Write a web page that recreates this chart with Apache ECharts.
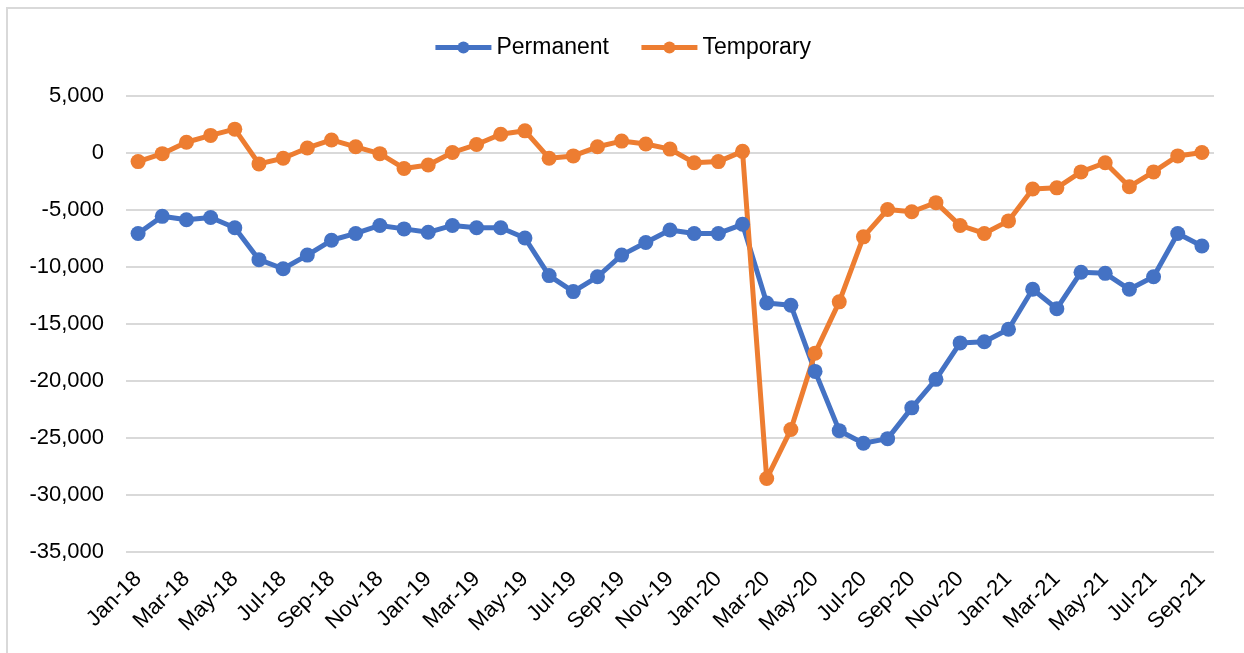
<!DOCTYPE html>
<html>
<head>
<meta charset="utf-8">
<script src="https://cdn.jsdelivr.net/npm/echarts@6/dist/echarts.min.js"></script>
<style>html,body{margin:0;padding:0;background:#fff;}#c{width:1244px;height:653px;}</style>
</head>
<body>
<div id="c"></div>
<script>
const categories = ["Jan-18","Feb-18","Mar-18","Apr-18","May-18","Jun-18","Jul-18","Aug-18","Sep-18","Oct-18","Nov-18","Dec-18",
"Jan-19","Feb-19","Mar-19","Apr-19","May-19","Jun-19","Jul-19","Aug-19","Sep-19","Oct-19","Nov-19","Dec-19",
"Jan-20","Feb-20","Mar-20","Apr-20","May-20","Jun-20","Jul-20","Aug-20","Sep-20","Oct-20","Nov-20","Dec-20",
"Jan-21","Feb-21","Mar-21","Apr-21","May-21","Jun-21","Jul-21","Aug-21","Sep-21"];
const permanent = [-7100,-5600,-5900,-5700,-6600,-9400,-10200,-9000,-7700,-7100,-6400,-6700,
-7000,-6400,-6600,-6600,-7500,-10800,-12200,-10900,-9000,-7900,-6800,-7100,
-7100,-6300,-13200,-13400,-19200,-24400,-25500,-25100,-22400,-19900,-16700,-16600,
-15500,-12000,-13700,-10500,-10600,-12000,-10900,-7100,-8200];
const temporary = [-800,-100,900,1500,2050,-1000,-500,400,1100,500,-100,-1400,
-1100,0,700,1600,1900,-500,-300,500,1000,750,300,-900,
-800,100,-28600,-24300,-17600,-13100,-7400,-5000,-5200,-4400,-6400,-7100,
-6000,-3200,-3100,-1700,-900,-3000,-1700,-300,0];
const yMin = -35000, yMax = 5000, yStep = 5000;

const chart = echarts.init(document.getElementById('c'), null, {renderer:'canvas'});
const font = 'Liberation Sans, Arial, sans-serif';
chart.setOption({
  animation:false,
  backgroundColor:'#fff',
  graphic:[{type:'rect', shape:{x:7,y:8,width:1300,height:700}, style:{fill:'none', stroke:'#d9d9d9', lineWidth:2}, silent:true}],
  legend:{
    top:31, left:'center', itemWidth:56, itemHeight:15, itemGap:30,
    lineStyle:{width:5},
    textStyle:{fontFamily:font, fontSize:23, color:'#000'},
    data:['Permanent','Temporary']
  },
  grid:{left:126, right:30, top:95.5, bottom:101.5, containLabel:false},
  xAxis:{
    type:'category', data:categories, boundaryGap:true,
    axisLine:{show:false}, axisTick:{show:false},
    axisLabel:{interval:1, rotate:45, fontFamily:font, fontSize:22, color:'#000', margin:24}
  },
  yAxis:{
    type:'value', min:yMin, max:yMax, interval:yStep,
    axisLine:{show:false}, axisTick:{show:false},
    splitLine:{lineStyle:{color:'#d9d9d9', width:2}},
    axisLabel:{fontFamily:font, fontSize:22, color:'#000', margin:22,
      formatter:v=>v.toLocaleString('en-US')}
  },
  series:[
    {name:'Permanent', type:'line', data:permanent, symbol:'circle', symbolSize:15,
     lineStyle:{width:5, color:'#4472C4'}, itemStyle:{color:'#4472C4'}},
    {name:'Temporary', type:'line', data:temporary, symbol:'circle', symbolSize:15,
     lineStyle:{width:5, color:'#ED7D31'}, itemStyle:{color:'#ED7D31'}}
  ]
});
</script>
</body>
</html>
